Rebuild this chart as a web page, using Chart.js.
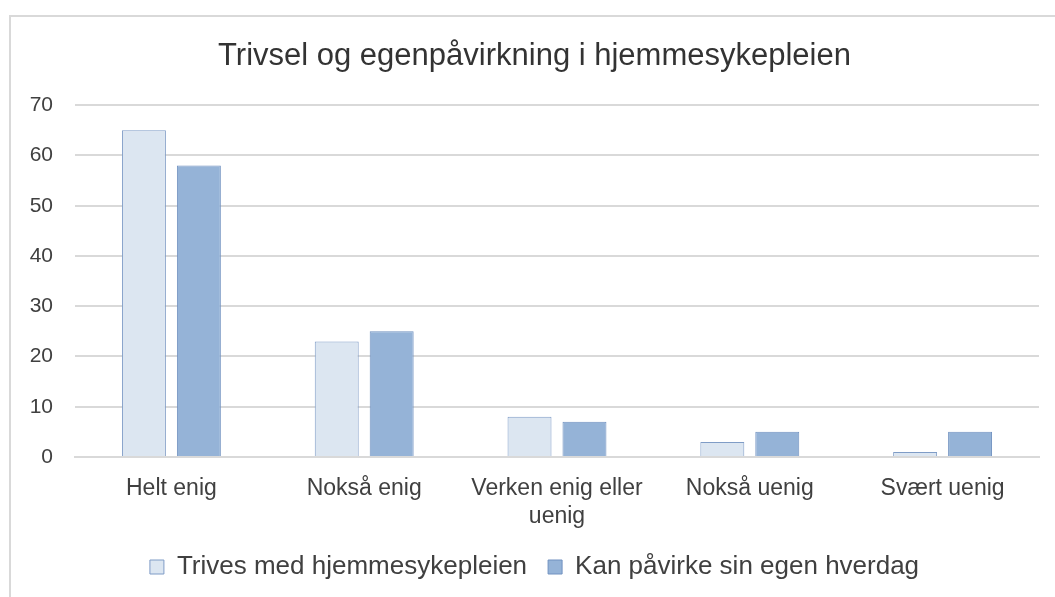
<!DOCTYPE html>
<html>
<head>
<meta charset="utf-8">
<script src="https://cdn.jsdelivr.net/npm/chart.js@4"></script>
<style>
  html, body { margin: 0; padding: 0; background: #fff; }
  #wrap { position: relative; width: 1055px; height: 597px; overflow: hidden; }
  #frame { position: absolute; left: 9px; top: 15px; width: 1100px; height: 640px; border: 2px solid #d9d9d9; box-sizing: border-box; }
  #chart { position: absolute; left: 0; top: 0; }
</style>
</head>
<body>
<div id="wrap">
  <div id="frame"></div>
  <canvas id="chart" width="1055" height="597"></canvas>
</div>
<script>
// Chart data
const categories = ['Helt enig', 'Nokså enig', ['Verken enig eller', 'uenig'], 'Nokså uenig', 'Svært uenig'];
const trivesValues = [65, 23, 8, 3, 1];
const pavirkeValues = [58, 25, 7, 5, 5];
const seriesNames = ['Trives med hjemmesykepleien', 'Kan påvirke sin egen hverdag'];
const yTicks = [0, 10, 20, 30, 40, 50, 60, 70];

Chart.defaults.font.family = '"Liberation Sans", Arial, sans-serif';
Chart.defaults.color = '#404040';

const gridColor = '#d9d9d9';
const padLeft = 30;

new Chart(document.getElementById('chart').getContext('2d'), {
  type: 'bar',
  data: {
    labels: categories,
    datasets: [
      {
        label: seriesNames[0],
        data: trivesValues,
        backgroundColor: '#dce6f1',
        borderColor: '#7f9cc6',
        borderWidth: 1,
        categoryPercentage: 0.57,
        barPercentage: 0.8
      },
      {
        label: seriesNames[1],
        data: pavirkeValues,
        backgroundColor: '#95b3d7',
        borderColor: '#7091c0',
        borderWidth: 1,
        categoryPercentage: 0.57,
        barPercentage: 0.8
      }
    ]
  },
  options: {
    responsive: false,
    animation: false,
    layout: { padding: { left: padLeft, right: 16, top: 38, bottom: 7 } },
    plugins: {
      title: {
        display: true,
        text: 'Trivsel og egenpåvirkning i hjemmesykepleien',
        color: '#333333',
        font: { size: 31, weight: 'normal' },
        padding: { top: 0, bottom: 30 }
      },
      legend: {
        position: 'bottom',
        labels: {
          boxWidth: 14,
          boxHeight: 14,
          font: { size: 26 },
          color: '#404040',
          padding: 21
        }
      },
      tooltip: { enabled: false }
    },
    scales: {
      x: {
        afterFit: axis => { axis.height = 76; },
        grid: { display: false },
        border: { color: gridColor, width: 2 },
        ticks: { font: { size: 23 }, color: '#404040', padding: 10, maxRotation: 0 }
      },
      y: {
        min: 0,
        max: 70,
        afterBuildTicks: axis => { axis.ticks = yTicks.map(v => ({ value: v })); },
        afterFit: axis => { axis.width = 75 - padLeft; },
        grid: { color: gridColor, lineWidth: 2, drawTicks: false },
        border: { display: false },
        ticks: { font: { size: 21 }, color: '#404040', padding: 22 }
      }
    }
  }
});
</script>
</body>
</html>
